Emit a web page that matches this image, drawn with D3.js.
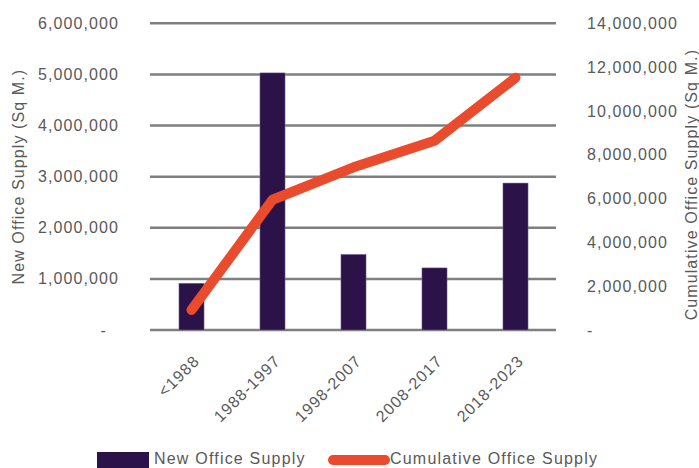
<!DOCTYPE html>
<html lang="en">
<head>
    <meta charset="UTF-8">
    <title>Office Supply</title>
    <script src="https://cdnjs.cloudflare.com/ajax/libs/d3/7.8.5/d3.min.js"></script>
    <style>
        body {
            margin: 0;
            background: #ffffff;
        }

        text {
            font-family: "Liberation Sans", Arial, sans-serif;
            font-size: 16px;
            fill: #595959;
            letter-spacing: 1.1px;
        }
    </style>
</head>
<body>
    <div id="chart"></div>
    <script>
        const periods = ["<1988", "1988-1997", "1998-2007", "2008-2017", "2018-2023"];
        const newSupply = [915000, 5030000, 1480000, 1215000, 2875000];
        const cumulativeSupply = [915000, 5945000, 7425000, 8640000, 11515000];
        const leftTicks = [0, 1000000, 2000000, 3000000, 4000000, 5000000, 6000000];
        const rightTicks = [0, 2000000, 4000000, 6000000, 8000000, 10000000, 12000000, 14000000];

        const width = 699;
        const height = 468;
        const plot = { left: 151, right: 556, top: 23.3, bottom: 330 };

        const barColor = "#2b1249";
        const lineColor = "#ea4b2c";
        const gridColor = "#7f7f7f";

        const svg = d3.select("#chart")
            .append("svg")
            .attr("width", width)
            .attr("height", height);

        const x = d3.scaleBand()
            .domain(periods)
            .range([plot.left, plot.right])
            .paddingInner(0.69)
            .paddingOuter(0.345);

        const yLeft = d3.scaleLinear()
            .domain([0, 6000000])
            .range([plot.bottom, plot.top]);

        const yRight = d3.scaleLinear()
            .domain([0, 14000000])
            .range([plot.bottom, plot.top]);

        const fmt = d => d === 0 ? "-" : d3.format(",")(d);

        // gridlines (follow left axis)
        svg.append("g")
            .selectAll("line")
            .data(leftTicks)
            .enter()
            .append("line")
            .attr("x1", plot.left - 1)
            .attr("x2", plot.right)
            .attr("y1", d => yLeft(d))
            .attr("y2", d => yLeft(d))
            .attr("stroke", gridColor)
            .attr("stroke-width", 2.5);

        // left tick labels
        svg.append("g")
            .selectAll("text")
            .data(leftTicks)
            .enter()
            .append("text")
            .attr("x", d => d === 0 ? 107 : 119)
            .attr("y", d => yLeft(d))
            .attr("dy", "0.35em")
            .attr("text-anchor", "end")
            .text(fmt);

        // right tick labels
        svg.append("g")
            .selectAll("text")
            .data(rightTicks)
            .enter()
            .append("text")
            .attr("x", 587)
            .attr("y", d => yRight(d))
            .attr("dy", "0.35em")
            .attr("text-anchor", "start")
            .text(fmt);

        // bars
        svg.append("g")
            .selectAll("rect")
            .data(periods)
            .enter()
            .append("rect")
            .attr("x", d => x(d))
            .attr("y", (d, i) => yLeft(newSupply[i]))
            .attr("width", x.bandwidth())
            .attr("height", (d, i) => plot.bottom - yLeft(newSupply[i]))
            .attr("fill", barColor)
            .attr("stroke", "#8a7aa3")
            .attr("stroke-width", 0.5);

        // cumulative line
        const line = d3.line()
            .x((d, i) => x(periods[i]) + x.bandwidth() / 2)
            .y(d => yRight(d));

        svg.append("path")
            .datum(cumulativeSupply)
            .attr("d", line)
            .attr("fill", "none")
            .attr("stroke", lineColor)
            .attr("stroke-width", 10)
            .attr("stroke-linecap", "round")
            .attr("stroke-linejoin", "round");

        // category labels
        svg.append("g")
            .selectAll("text")
            .data(periods)
            .enter()
            .append("text")
            .attr("text-anchor", "end")
            .attr("transform", d => `translate(${x(d) + x.bandwidth() / 2 + 9}, 362) rotate(-45)`)
            .text(d => d);

        // axis titles
        svg.append("text")
            .attr("transform", `translate(24, ${(plot.top + plot.bottom) / 2}) rotate(-90)`)
            .attr("text-anchor", "middle")
            .text("New Office Supply (Sq M.)");

        svg.append("text")
            .attr("transform", `translate(697, ${(plot.top + plot.bottom) / 2 + 8}) rotate(-90)`)
            .attr("text-anchor", "middle")
            .text("Cumulative Office Supply (Sq M.)");

        // legend
        const legend = svg.append("g");

        legend.append("rect")
            .attr("x", 97)
            .attr("y", 452)
            .attr("width", 52)
            .attr("height", 20)
            .attr("fill", barColor);

        legend.append("text")
            .attr("x", 154)
            .attr("y", 464)
            .style("letter-spacing", "1.2px")
            .text("New Office Supply");

        legend.append("line")
            .attr("x1", 333)
            .attr("x2", 385)
            .attr("y1", 460)
            .attr("y2", 460)
            .attr("stroke", lineColor)
            .attr("stroke-width", 10)
            .attr("stroke-linecap", "round");

        legend.append("text")
            .attr("x", 390)
            .attr("y", 464)
            .style("letter-spacing", "1.2px")
            .text("Cumulative Office Supply");
    </script>
</body>
</html>
